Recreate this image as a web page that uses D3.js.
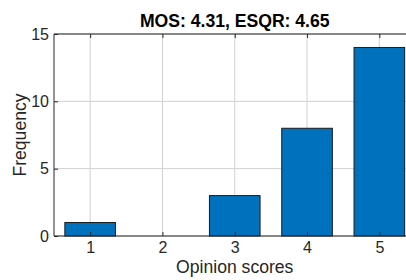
<!DOCTYPE html>
<html>
<head>
<meta charset="utf-8">
<script src="https://cdn.jsdelivr.net/npm/d3@7/dist/d3.min.js"></script>
<style>
  html, body { margin: 0; padding: 0; background: #fff; }
  svg { display: block; font-family: "Liberation Sans", Arial, Helvetica, sans-serif; }
</style>
</head>
<body>
<svg id="chart" width="406" height="280"></svg>
<script>
// Chart data
const scores = [1, 2, 3, 4, 5];
const counts = [1, 0, 3, 8, 14];
const yTicks = [0, 5, 10, 15];
const titleText = "MOS: 4.31, ESQR: 4.65";
const xLabel = "Opinion scores";
const yLabel = "Frequency";

const width = 406;
const height = 280;
const margin = { top: 34, right: -9.5, bottom: 44, left: 54 };

const svg = d3.select("#chart");

// Scales (axes box runs past the right edge of the window)
const x = d3.scaleLinear()
  .domain([0.5, 5.5])
  .range([margin.left, width - margin.right]);
const y = d3.scaleLinear()
  .domain([0, 15])
  .range([height - margin.bottom, margin.top]);

const barWidth = (x(2) - x(1)) * 0.7;
const axisColor = "#262626";
const gridColor = "#d0d0d0";

// Grid lines
svg.append("g")
  .selectAll("line.vgrid")
  .data(scores)
  .join("line")
  .attr("x1", (d) => x(d))
  .attr("x2", (d) => x(d))
  .attr("y1", y(0))
  .attr("y2", y(15))
  .attr("stroke", gridColor)
  .attr("stroke-width", 1);

svg.append("g")
  .selectAll("line.hgrid")
  .data(yTicks)
  .join("line")
  .attr("x1", x(0.5))
  .attr("x2", x(5.5))
  .attr("y1", (d) => y(d))
  .attr("y2", (d) => y(d))
  .attr("stroke", gridColor)
  .attr("stroke-width", 1);

// Bars
svg.append("g")
  .selectAll("rect")
  .data(scores)
  .join("rect")
  .attr("x", (d) => x(d) - barWidth / 2)
  .attr("y", (d, i) => y(counts[i]))
  .attr("width", barWidth)
  .attr("height", (d, i) => y(0) - y(counts[i]))
  .attr("fill", "#0072BD")
  .attr("stroke", "#1a1a1a")
  .attr("stroke-width", 1);

// Axes (inward ticks, MATLAB style)
const xAxisBottom = d3.axisBottom(x).tickValues(scores).tickSize(-4).tickPadding(6).tickFormat(d3.format("d"));
const xAxisTop = d3.axisTop(x).tickValues(scores).tickSize(-4).tickFormat("");
const yAxisLeft = d3.axisLeft(y).tickValues(yTicks).tickSize(-4).tickPadding(5).tickFormat(d3.format("d"));

const gx = svg.append("g")
  .attr("transform", `translate(0,${y(0)})`)
  .call(xAxisBottom);
const gxt = svg.append("g")
  .attr("transform", `translate(0,${y(15)})`)
  .call(xAxisTop);
const gy = svg.append("g")
  .attr("transform", `translate(${x(0.5)},0)`)
  .call(yAxisLeft);

[gx, gxt, gy].forEach((g) => {
  g.select(".domain").attr("stroke", axisColor).attr("stroke-width", 1);
  g.selectAll(".tick line").attr("stroke", axisColor);
  g.selectAll(".tick text")
    .attr("fill", axisColor)
    .attr("font-size", "16px")
    .attr("font-family", "Liberation Sans, Arial, sans-serif");
});
gx.select(".domain").attr("d", `M${x(0.5)},0H${x(5.5)}`);
gxt.select(".domain").attr("d", `M${x(0.5)},0H${x(5.5)}`);
gy.select(".domain").attr("d", `M0,${y(0)}V${y(15)}`);

// Title
svg.append("text")
  .attr("x", (x(0.5) + x(5.5)) / 2)
  .attr("y", 26.5)
  .attr("text-anchor", "middle")
  .attr("font-size", "17.6px")
  .attr("font-weight", "bold")
  .attr("fill", "#000")
  .text(titleText);

// Axis labels
svg.append("text")
  .attr("x", (x(0.5) + x(5.5)) / 2)
  .attr("y", 273)
  .attr("text-anchor", "middle")
  .attr("font-size", "17.6px")
  .attr("fill", axisColor)
  .text(xLabel);

svg.append("text")
  .attr("transform", `translate(26,${(y(0) + y(15)) / 2}) rotate(-90)`)
  .attr("text-anchor", "middle")
  .attr("font-size", "17.6px")
  .attr("fill", axisColor)
  .text(yLabel);
</script>
</body>
</html>
